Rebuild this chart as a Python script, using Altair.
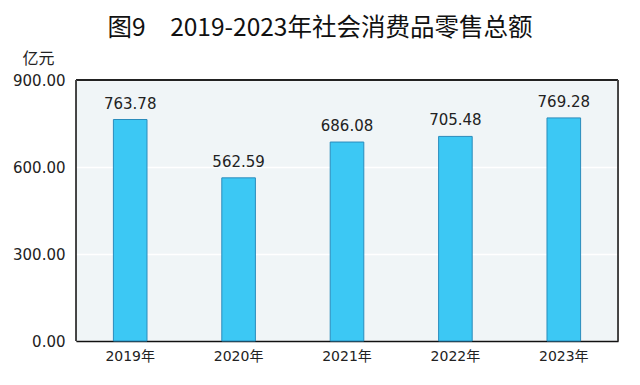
import altair as alt
import pandas as pd

years = ["2019年", "2020年", "2021年", "2022年", "2023年"]
values = [763.78, 562.59, 686.08, 705.48, 769.28]
labels = ["763.78", "562.59", "686.08", "705.48", "769.28"]

df = pd.DataFrame({"year": years, "value": values, "label": labels})

FONT = "DejaVu Sans, Noto Sans CJK SC"

base = alt.Chart(df).encode(
    x=alt.X("year:N", sort=years,
            scale=alt.Scale(paddingInner=0.69, paddingOuter=0.345),
            axis=alt.Axis(title=None, labelAngle=0, labelFontSize=14, labelColor="#222",
                          labelFont=FONT, ticks=False, domainColor="#111", domainWidth=1.5,
                          labelPadding=8))
)

bars = base.mark_bar(color="#3cc8f4", stroke="#2a8cbc", strokeWidth=1).encode(
    y=alt.Y("value:Q", scale=alt.Scale(domain=[0, 900]),
            axis=alt.Axis(values=[0, 300, 600, 900], format=".2f", title="亿元",
                          titleAngle=0, titleX=-38, titleY=-22, titleAlign="center",
                          titleBaseline="middle", titleFontSize=16, titleFontWeight="normal",
                          titleFont="Noto Sans CJK SC", titleColor="#222",
                          labelFontSize=15, labelColor="#222", labelFont=FONT,
                          ticks=False, labelPadding=11, domain=False,
                          gridColor="white", gridWidth=1.5))
)

text = base.mark_text(dy=-16, fontSize=15, color="#222", font=FONT).encode(
    y=alt.Y("value:Q"), text="label:N")

frame = alt.Chart(df).mark_rule(color="#222", strokeWidth=2).encode(
    x=alt.value(0), x2=alt.value(542), y=alt.value(0))
side_l = alt.Chart(df).mark_rule(color="#444", strokeWidth=1).encode(
    x=alt.value(0), y=alt.value(0), y2=alt.value(261))
side_r = alt.Chart(df).mark_rule(color="#444", strokeWidth=1).encode(
    x=alt.value(542), y=alt.value(0), y2=alt.value(261))

chart = (bars + text + frame + side_l + side_r).properties(
    width=542, height=261,
    autosize=alt.AutoSizeParams(type="none"),
    padding={"left": 68, "top": 72, "right": 14, "bottom": 36},
    background="white",
    title=alt.TitleParams("图9　2019-2023年社会消费品零售总额", fontSize=24.5,
                          font="Noto Sans CJK SC", fontWeight="normal", color="#111",
                          anchor="middle", offset=9, dx=-27),
).configure_view(fill="#f0f5f7", stroke="#333", strokeWidth=1)

chart.save("out.html", embed_options={"renderer": "svg", "actions": False})
